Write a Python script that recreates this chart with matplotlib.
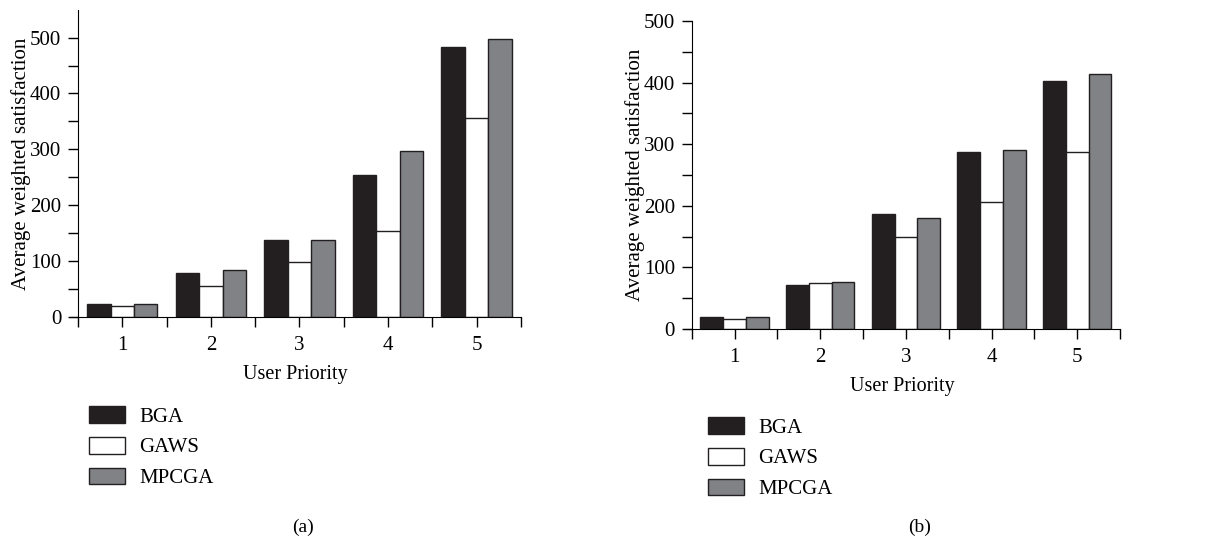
import matplotlib
matplotlib.use("Agg")
import matplotlib.pyplot as plt
import numpy as np

plt.rcParams['font.family'] = ['Liberation Serif', 'DejaVu Serif']
plt.rcParams['font.size'] = 14

# -----------------------
# Datos
# -----------------------
prioridades = [1, 2, 3, 4, 5]
series = ["BGA", "GAWS", "MPCGA"]
colores = ["#231f20", "#ffffff", "#808285"]

bga_a = [24, 78, 137, 254, 484]
gaws_a = [19, 55, 99, 154, 356]
mpcga_a = [24, 84, 137, 297, 497]

bga_b = [19.5, 72, 186, 287, 402]
gaws_b = [17, 74, 149, 206, 287]
mpcga_b = [19.5, 76, 180, 291, 414]

fig = plt.figure(figsize=(12.19, 5.38), dpi=100)


def panel(rect, datos, ytop, leg_xy, cap_xy, letra):
    ax = fig.add_axes(rect)
    x = np.array(prioridades)
    w = 0.265
    bars = []
    for i, (vals, c, nombre) in enumerate(zip(datos, colores, series)):
        b = ax.bar(x + (i - 1) * w, vals, w, color=c, edgecolor="#231f20",
                   linewidth=1.0, label=nombre)
        bars.append(b)
    ax.set_xlim(0.41, 5.5)
    ax.set_ylim(0, ytop)
    ax.spines['top'].set_visible(False)
    ax.spines['right'].set_visible(False)
    ax.spines['left'].set_position(('data', 0.5))
    ax.set_xticks(prioridades)
    ax.set_xticks([0.5, 1.5, 2.5, 3.5, 4.5, 5.5], minor=True)
    ax.set_yticks([0, 100, 200, 300, 400, 500])
    ax.set_yticks([50, 150, 250, 350, 450], minor=True)
    ax.tick_params(which='both', direction='out', length=7, width=1, labelsize=15)
    ax.tick_params(axis='x', pad=7)
    ax.tick_params(axis='y', pad=5)
    ax.set_xlabel("User Priority", labelpad=7, fontsize=14.5)
    ax.set_ylabel("Average weighted satisfaction", fontsize=15, labelpad=-1)
    ax.legend(handles=bars, loc='upper left', bbox_to_anchor=leg_xy,
              bbox_transform=fig.transFigure, frameon=False, borderpad=0,
              borderaxespad=0, handlelength=1.75, handleheight=0.85,
              handletextpad=0.65, labelspacing=0.5, fontsize=15)
    fig.text(cap_xy[0], cap_xy[1], letra, ha='center', va='center', fontsize=14)
    return ax


panel([70 / 1219, 0.4108, 451 / 1219, 0.5712], [bga_a, gaws_a, mpcga_a], 550,
      (89 / 1219, 1 - 406 / 538), (303 / 1219, 1 - 527 / 538), "(a)")
panel([684 / 1219, 0.3885, 436 / 1219, 0.5725], [bga_b, gaws_b, mpcga_b], 500,
      (708 / 1219, 1 - 417 / 538), (920 / 1219, 1 - 527 / 538), "(b)")

fig.savefig("out.png", dpi=100)
